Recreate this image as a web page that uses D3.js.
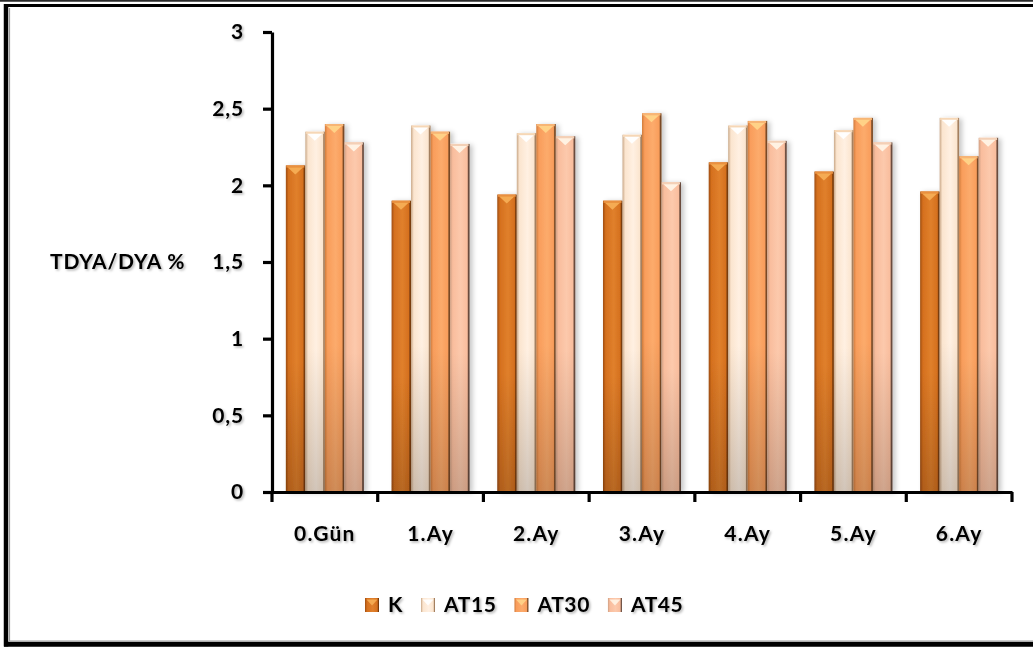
<!DOCTYPE html>
<html>
<head>
<meta charset="utf-8">
<script src="https://cdn.jsdelivr.net/npm/d3@7/dist/d3.min.js"></script>
<style>
  html, body { margin: 0; padding: 0; background: #fff; }
  svg { display: block; }
  text { font-family: Lato, "Open Sans", sans-serif; font-weight: 700; fill: #000; }
</style>
</head>
<body>
<svg id="chart" width="1033" height="650"></svg>
<script>
// ---- data ----
const categories = ["0.Gün", "1.Ay", "2.Ay", "3.Ay", "4.Ay", "5.Ay", "6.Ay"];
const seriesNames = ["K", "AT15", "AT30", "AT45"];
const K    = [2.13, 1.90, 1.94, 1.90, 2.15, 2.09, 1.96];
const AT15 = [2.35, 2.39, 2.34, 2.33, 2.39, 2.36, 2.44];
const AT30 = [2.40, 2.35, 2.40, 2.47, 2.42, 2.44, 2.19];
const AT45 = [2.28, 2.27, 2.32, 2.02, 2.29, 2.28, 2.31];
const yTicks = [0, 0.5, 1, 1.5, 2, 2.5, 3];
const yTickLabels = ["0", "0,5", "1", "1,5", "2", "2,5", "3"];
const yTitle = "TDYA/DYA %";

const seriesValues = [K, AT15, AT30, AT45];
const table = categories.map((c, i) => ({
  cat: c,
  vals: seriesNames.map((s, j) => ({ key: s, value: seriesValues[j][i] }))
}));

// ---- styles ----
const palette = {
  K:    { edgeL: "#9E4C10", mid: "#D5701E", hi: "#E0802C", edgeR: "#7A3C0C", cap: "#F6AE55", top: "#E99040" },
  AT15: { edgeL: "#C9A888", mid: "#FBE5CF", hi: "#FFF0E2", edgeR: "#A48060", cap: "#FFFFFF", top: "#F6D7B6" },
  AT30: { edgeL: "#D07C3C", mid: "#F99D5B", hi: "#FCAB6C", edgeR: "#7A4A26", cap: "#FFD489", top: "#F7B574" },
  AT45: { edgeL: "#CFA084", mid: "#F9BD9D", hi: "#FCC9AC", edgeR: "#6A4C3E", cap: "#FFF4E6", top: "#F3D0B6" }
};
const FONT_SIZE = 21;

const W = 1033, H = 650;
const margin = { left: 272, right: W - 1012, top: 32, bottom: H - 492 };

const svg = d3.select("#chart");
const defs = svg.append("defs");

// gradients
seriesNames.forEach(s => {
  const p = palette[s];
  const g = defs.append("linearGradient").attr("id", "g-" + s)
    .attr("x1", "0%").attr("x2", "100%").attr("y1", "0%").attr("y2", "0%");
  [[0, p.edgeL], [0.14, p.mid], [0.55, p.hi], [0.88, p.mid], [0.94, p.edgeR], [1, p.edgeR]]
    .forEach(([o, c]) => g.append("stop").attr("offset", o).attr("stop-color", c));
});
const vg = defs.append("linearGradient").attr("id", "shade-v")
  .attr("x1", "0").attr("x2", "0").attr("y1", "0").attr("y2", "1");
vg.append("stop").attr("offset", 0).attr("stop-color", "#000").attr("stop-opacity", 0);
vg.append("stop").attr("offset", 0.6).attr("stop-color", "#000").attr("stop-opacity", 0);
vg.append("stop").attr("offset", 1).attr("stop-color", "#000").attr("stop-opacity", 0.18);

const fBar = defs.append("filter").attr("id", "barShadow")
  .attr("x", "-20%").attr("y", "-10%").attr("width", "160%").attr("height", "130%");
fBar.append("feDropShadow").attr("dx", 3).attr("dy", 1).attr("stdDeviation", 2.5)
  .attr("flood-color", "#000").attr("flood-opacity", 0.22);

const fText = defs.append("filter").attr("id", "textShadow")
  .attr("x", "-10%").attr("y", "-20%").attr("width", "130%").attr("height", "160%");
fText.append("feDropShadow").attr("dx", 1.5).attr("dy", 1.5).attr("stdDeviation", 1)
  .attr("flood-color", "#000").attr("flood-opacity", 0.3);

// ---- frame ----
svg.append("rect").attr("x", 0).attr("y", 0).attr("width", W).attr("height", H).attr("fill", "#fff");
svg.append("line").attr("x1", 0).attr("x2", W).attr("y1", 0.8).attr("y2", 0.8)
  .attr("stroke", "#2a2a2a").attr("stroke-width", 1.8);
svg.append("line").attr("x1", 4).attr("x2", W).attr("y1", 5.5).attr("y2", 5.5)
  .attr("stroke", "#000").attr("stroke-width", 3);
svg.append("line").attr("x1", 6).attr("x2", 6).attr("y1", 4).attr("y2", 646.5)
  .attr("stroke", "#000").attr("stroke-width", 4.5);
svg.append("line").attr("x1", 4).attr("x2", W).attr("y1", 644.2).attr("y2", 644.2)
  .attr("stroke", "#000").attr("stroke-width", 5);
svg.append("line").attr("x1", 9.5).attr("x2", 9.5).attr("y1", 8).attr("y2", 641)
  .attr("stroke", "#9a9a9a").attr("stroke-width", 1.2);
svg.append("line").attr("x1", 9).attr("x2", W).attr("y1", 641).attr("y2", 641)
  .attr("stroke", "#9a9a9a").attr("stroke-width", 1.2);

// ---- scales ----
const pad = 0.262;
const x0 = d3.scaleBand().domain(categories)
  .range([margin.left, W - margin.right]).paddingInner(pad).paddingOuter(pad / 2);
const x1 = d3.scaleBand().domain(seriesNames).range([0, x0.bandwidth()]).padding(0);
const y = d3.scaleLinear().domain([0, 3]).range([H - margin.bottom, margin.top]);

// ---- bars ----
const barsG = svg.append("g").attr("filter", "url(#barShadow)");
const groups = barsG.selectAll("g.grp").data(table).join("g")
  .attr("class", "grp").attr("transform", d => `translate(${x0(d.cat)},0)`);

const bar = groups.selectAll("g.bar").data(d => d.vals).join("g").attr("class", "bar");
bar.append("rect")
  .attr("x", d => x1(d.key)).attr("y", d => y(d.value))
  .attr("width", x1.bandwidth()).attr("height", d => y(0) - y(d.value))
  .attr("fill", d => `url(#g-${d.key})`);
bar.append("rect")
  .attr("x", d => x1(d.key)).attr("y", d => y(d.value))
  .attr("width", x1.bandwidth()).attr("height", d => y(0) - y(d.value))
  .attr("fill", "url(#shade-v)");
// top bevel strip
bar.append("rect")
  .attr("x", d => x1(d.key) + 0.5).attr("y", d => y(d.value))
  .attr("width", x1.bandwidth() - 1.5).attr("height", 2.2)
  .attr("fill", d => palette[d.key].top);
// top triangle highlight
bar.append("path")
  .attr("d", d => {
    const bx = x1(d.key), bw = x1.bandwidth(), ty = y(d.value);
    return `M${bx + 2},${ty + 2} L${bx + bw - 2.5},${ty + 2} L${bx + bw / 2 - 0.3},${ty + 9} Z`;
  })
  .attr("fill", d => palette[d.key].cap).attr("opacity", 0.95);

// ---- axes ----
const yAxis = svg.append("g").attr("transform", `translate(${margin.left},0)`)
  .call(d3.axisLeft(y).tickValues(yTicks)
    .tickFormat((d, i) => yTickLabels[i]).tickSize(9).tickSizeOuter(0).tickPadding(19));
yAxis.select(".domain").attr("stroke", "#000").attr("stroke-width", 3.2);
yAxis.selectAll(".tick line").attr("stroke", "#000").attr("stroke-width", 3.2);
yAxis.selectAll(".tick text").attr("font-size", FONT_SIZE).attr("letter-spacing", 0.8)
  .attr("font-family", "Lato").attr("font-weight", 700).attr("filter", "url(#textShadow)");

const xAxis = svg.append("g").attr("transform", `translate(0,${y(0)})`)
  .call(d3.axisBottom(x0).tickSize(0).tickSizeOuter(0));
xAxis.select(".domain").attr("stroke", "#000").attr("stroke-width", 3.2);
xAxis.selectAll(".tick text").attr("y", 49).attr("dy", null)
  .attr("font-size", FONT_SIZE).attr("letter-spacing", 1.2)
  .attr("font-family", "Lato").attr("font-weight", 700).attr("filter", "url(#textShadow)");
// boundary ticks between categories
const boundaries = d3.range(categories.length + 1).map(i => x0.range()[0] + i * x0.step());
xAxis.selectAll("line.bnd").data(boundaries).join("line").attr("class", "bnd")
  .attr("x1", d => d).attr("x2", d => d).attr("y1", 0).attr("y2", 10)
  .attr("stroke", "#000").attr("stroke-width", 3.2);

// y title
svg.append("text").attr("x", 50).attr("y", y(1.5)).attr("dy", "0.35em")
  .attr("font-size", FONT_SIZE).attr("letter-spacing", 0.8)
  .attr("filter", "url(#textShadow)").text(yTitle);

// ---- legend ----
const legend = svg.append("g").attr("transform", "translate(365,605)");
let lx = 0;
seriesNames.forEach(s => {
  const it = legend.append("g").attr("transform", `translate(${lx},0)`);
  it.append("rect").attr("x", 0).attr("y", -7).attr("width", 14).attr("height", 14)
    .attr("fill", `url(#g-${s})`);
  it.append("path").attr("d", "M1.5,-5.5 L12.5,-5.5 L7,0.5 Z")
    .attr("fill", palette[s].cap).attr("opacity", 0.9);
  const t = it.append("text").attr("x", 23).attr("y", 0).attr("dy", "0.35em")
    .attr("font-size", FONT_SIZE).attr("letter-spacing", 0.6)
    .attr("filter", "url(#textShadow)").text(s);
  lx += 23 + t.node().getComputedTextLength() + 18;
});
</script>
</body>
</html>
